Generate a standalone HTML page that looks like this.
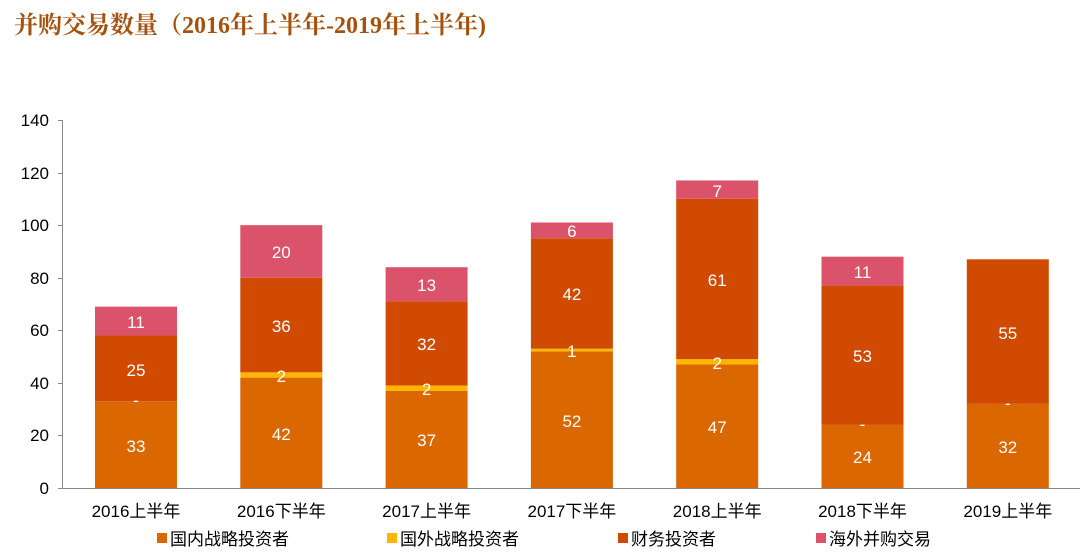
<!DOCTYPE html>
<html><head><meta charset="utf-8"><style>
html,body{margin:0;padding:0;background:#fff;}
svg{display:block;}
text{font-family:"Liberation Sans","Noto Sans CJK SC",sans-serif;}
.t{font-family:"Liberation Serif","Noto Serif CJK SC",serif;font-weight:bold;fill:#A5520F;font-size:24px;}
.ax{font-size:17px;fill:#000;}
.v{font-size:17px;fill:#fff;text-anchor:middle;}
.lg{font-size:17px;fill:#000;}
</style></head><body>
<svg width="1080" height="553" viewBox="0 0 1080 553" xmlns="http://www.w3.org/2000/svg">
<text class="t" x="14" y="33">并购交易数量（2016年上半年-2019年上半年)</text>
<g stroke="#888" stroke-width="1">
<line x1="62.5" y1="120" x2="62.5" y2="489"/>
<line x1="62" y1="488.5" x2="1080" y2="488.5"/>
<line x1="58" y1="120.5" x2="62" y2="120.5"/>
<line x1="58" y1="173.5" x2="62" y2="173.5"/>
<line x1="58" y1="225.5" x2="62" y2="225.5"/>
<line x1="58" y1="278.5" x2="62" y2="278.5"/>
<line x1="58" y1="330.5" x2="62" y2="330.5"/>
<line x1="58" y1="383.5" x2="62" y2="383.5"/>
<line x1="58" y1="435.5" x2="62" y2="435.5"/>
<line x1="58" y1="488.5" x2="62" y2="488.5"/>
</g>
<g class="ax" text-anchor="end">
<text x="49" y="126">140</text><text x="49" y="179">120</text><text x="49" y="231">100</text>
<text x="49" y="284">80</text><text x="49" y="336">60</text><text x="49" y="389">40</text>
<text x="49" y="441">20</text><text x="49" y="494">0</text>
</g>
<g>
<rect x="95" y="401.26" width="82" height="86.74" fill="#DB6700"/>
<rect x="95" y="335.54" width="82" height="65.72" fill="#D04A02"/>
<rect x="95" y="306.63" width="82" height="28.91" fill="#DB536A"/>

<rect x="240.3" y="377.6" width="82" height="110.4" fill="#DB6700"/>
<rect x="240.3" y="372.34" width="82" height="5.26" fill="#FFB600"/>
<rect x="240.3" y="277.71" width="82" height="94.63" fill="#D04A02"/>
<rect x="240.3" y="225.14" width="82" height="52.57" fill="#DB536A"/>

<rect x="385.6" y="390.74" width="82" height="97.26" fill="#DB6700"/>
<rect x="385.6" y="385.48" width="82" height="5.26" fill="#FFB600"/>
<rect x="385.6" y="301.37" width="82" height="84.11" fill="#D04A02"/>
<rect x="385.6" y="267.2" width="82" height="34.17" fill="#DB536A"/>

<rect x="530.9" y="351.31" width="82" height="136.69" fill="#DB6700"/>
<rect x="530.9" y="348.68" width="82" height="2.63" fill="#FFB600"/>
<rect x="530.9" y="238.28" width="82" height="110.4" fill="#D04A02"/>
<rect x="530.9" y="222.51" width="82" height="15.77" fill="#DB536A"/>

<rect x="676.2" y="364.46" width="82" height="123.54" fill="#DB6700"/>
<rect x="676.2" y="359.2" width="82" height="5.26" fill="#FFB600"/>
<rect x="676.2" y="198.86" width="82" height="160.34" fill="#D04A02"/>
<rect x="676.2" y="180.46" width="82" height="18.4" fill="#DB536A"/>

<rect x="821.5" y="424.91" width="82" height="63.09" fill="#DB6700"/>
<rect x="821.5" y="285.6" width="82" height="139.31" fill="#D04A02"/>
<rect x="821.5" y="256.69" width="82" height="28.91" fill="#DB536A"/>

<rect x="966.8" y="403.89" width="82" height="84.11" fill="#DB6700"/>
<rect x="966.8" y="259.32" width="82" height="144.57" fill="#D04A02"/>
</g>
<g class="v">
<text x="136" y="452">33</text><text x="136" y="406">-</text><text x="136" y="376">25</text><text x="136" y="328">11</text>
<text x="281.3" y="440">42</text><text x="281.3" y="382">2</text><text x="281.3" y="332">36</text><text x="281.3" y="258">20</text>
<text x="426.6" y="446">37</text><text x="426.6" y="395">2</text><text x="426.6" y="350">32</text><text x="426.6" y="291">13</text>
<text x="571.9" y="427">52</text><text x="571.9" y="357">1</text><text x="571.9" y="300">42</text><text x="571.9" y="237">6</text>
<text x="717.2" y="433">47</text><text x="717.2" y="369">2</text><text x="717.2" y="286">61</text><text x="717.2" y="197">7</text>
<text x="862.5" y="463">24</text><text x="862.5" y="430">-</text><text x="862.5" y="362">53</text><text x="862.5" y="278">11</text>
<text x="1007.8" y="453">32</text><text x="1007.8" y="409">-</text><text x="1007.8" y="339">55</text>
</g>
<g class="ax" text-anchor="middle">
<text x="136" y="517">2016上半年</text>
<text x="281.3" y="517">2016下半年</text>
<text x="426.6" y="517">2017上半年</text>
<text x="571.9" y="517">2017下半年</text>
<text x="717.2" y="517">2018上半年</text>
<text x="862.5" y="517">2018下半年</text>
<text x="1007.8" y="517">2019上半年</text>
</g>
<g class="lg">
<rect x="157" y="533" width="10" height="10" fill="#DB6700"/><text x="170" y="545">国内战略投资者</text>
<rect x="387" y="533" width="10" height="10" fill="#FFB600"/><text x="400" y="545">国外战略投资者</text>
<rect x="618" y="533" width="10" height="10" fill="#D04A02"/><text x="631" y="545">财务投资者</text>
<rect x="816" y="533" width="10" height="10" fill="#DB536A"/><text x="829" y="545">海外并购交易</text>
</g>
</svg>
</body></html>
